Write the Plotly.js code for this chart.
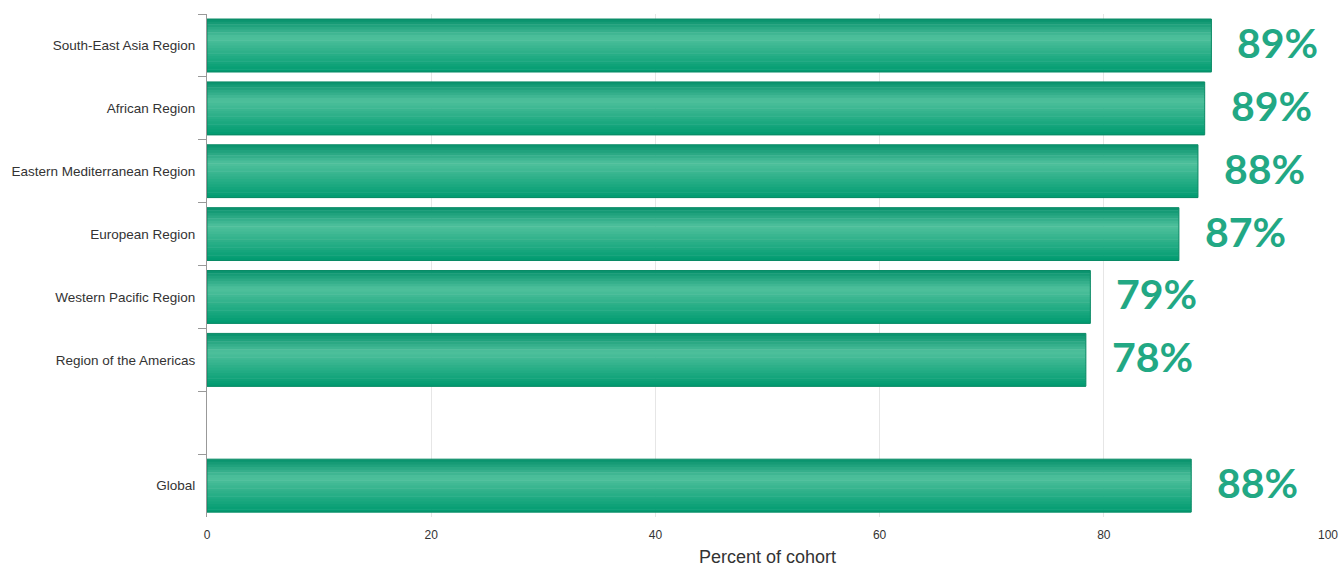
<!DOCTYPE html>
<html>
<head>
<meta charset="utf-8">
<script src="https://cdn.plot.ly/plotly-3.0.1.min.js"></script>
<style>html,body{margin:0;padding:0;background:#fff;}#chart{width:1343px;height:567px;}</style>
</head>
<body>
<div id="chart"></div>
<script>
var regions = ["South-East Asia Region", "African Region", "Eastern Mediterranean Region", "European Region", "Western Pacific Region", "Region of the Americas", " ", "Global"];
var percent = [89.6, 89.0, 88.4, 86.7, 78.8, 78.4, null, 87.8];
var labels = ["89%", "89%", "88%", "87%", "79%", "78%", "", "88%"];
var xTicks = [0, 20, 40, 60, 80, 100];

// smooth vertical gradient built from thin overlaid slices of the same bars
function hex(c) { return [parseInt(c.substr(1,2),16), parseInt(c.substr(3,2),16), parseInt(c.substr(5,2),16)]; }
function mix(a, b, t) {
  var A = hex(a), B = hex(b);
  return "rgb(" + A.map(function (v, k) { return Math.round(v + (B[k] - v) * t); }).join(",") + ")";
}
function gradColor(t) {
  if (t < 0.35) return mix("#06916b", "#4fc09c", t / 0.35);
  return mix("#4fc09c", "#009b70", (t - 0.35) / 0.65);
}
var BAR_W = 0.84, N = 20;
var traces = [];
for (var i = 0; i < N; i++) {
  traces.push({
    type: "bar",
    orientation: "h",
    y: regions,
    x: percent,
    width: BAR_W / N + 0.008,
    offset: -BAR_W / 2 + i * BAR_W / N,
    marker: { color: gradColor((i + 0.5) / N), line: { width: 0 } },
    hoverinfo: "skip",
    showlegend: false
  });
}
traces.push({
  type: "bar",
  orientation: "h",
  y: regions,
  x: percent,
  width: BAR_W,
  offset: -BAR_W / 2,
  marker: { color: "rgba(0,0,0,0)", line: { width: 1, color: "#0a8a65" } },
  hoverinfo: "skip",
  showlegend: false
});

var annotations = [];
regions.forEach(function (r, k) {
  if (percent[k] === null) return;
  annotations.push({
    xref: "x", yref: "y",
    x: percent[k], y: r,
    text: labels[k],
    showarrow: false,
    xanchor: "left",
    yanchor: "middle",
    xshift: 24,
    yshift: 3,
    font: { family: "Lato, 'Open Sans', sans-serif", size: 41, color: "#22a884", weight: "bold" }
  });
});

var layout = {
  width: 1343,
  height: 567,
  margin: { l: 207, r: 15, t: 14, b: 50 },
  barmode: "overlay",
  paper_bgcolor: "#fff",
  plot_bgcolor: "#fff",
  font: { family: "'Liberation Sans', Arial, sans-serif", color: "#333" },
  annotations: annotations,
  xaxis: {
    range: [0, 100],
    tickvals: xTicks,
    ticktext: xTicks.map(String),
    showgrid: true,
    gridcolor: "#e6e6e6",
    zeroline: false,
    showline: false,
    ticks: "",
    ticklabelstandoff: 9,
    tickfont: { size: 12, color: "#333" },
    title: { text: "Percent of cohort", font: { size: 18, color: "#333" }, standoff: 11 },
    fixedrange: true
  },
  yaxis: {
    type: "category",
    categoryorder: "array",
    categoryarray: regions,
    autorange: "reversed",
    showline: true,
    linecolor: "#999",
    linewidth: 1,
    ticks: "outside",
    tickson: "boundaries",
    ticklen: 8,
    tickcolor: "#999",
    ticklabelstandoff: 8,
    showgrid: false,
    zeroline: false,
    tickfont: { size: 13.5, color: "#333" },
    fixedrange: true
  }
};

Plotly.newPlot("chart", traces, layout, { displayModeBar: false, staticPlot: true });
</script>
</body>
</html>
